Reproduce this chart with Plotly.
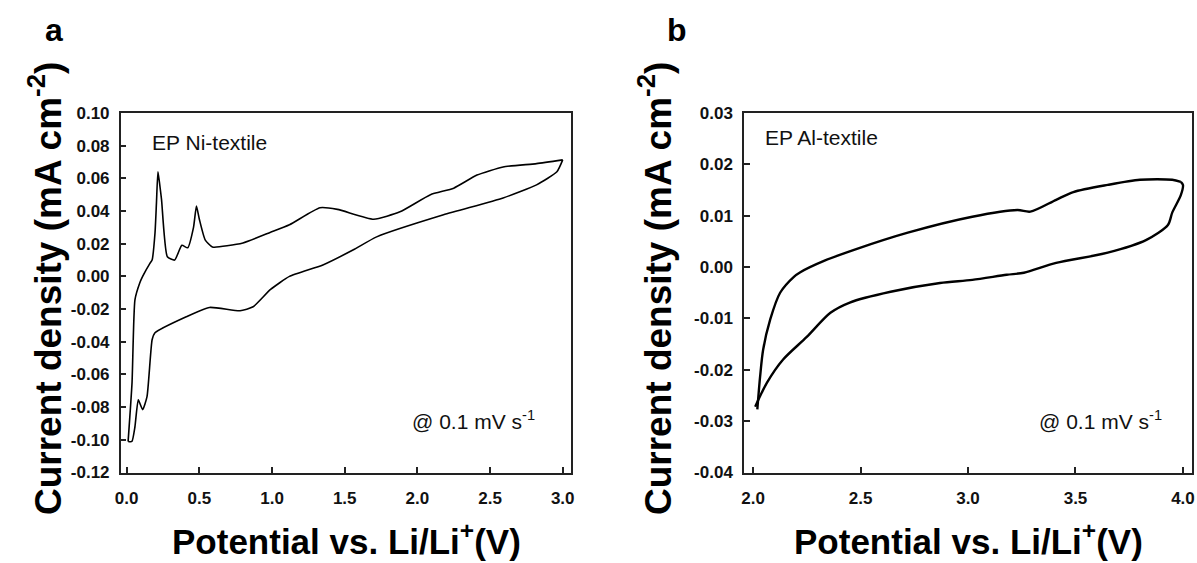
import plotly.graph_objects as go

# ---------------- Panel a: EP Ni-textile (0.0 - 3.0 V) ----------------
a_cath_x = [3.00, 2.96, 2.82, 2.59, 2.18, 1.72, 1.56, 1.35, 1.12, 0.99, 0.87, 0.78,
            0.57, 0.41, 0.195, 0.175, 0.14, 0.11, 0.08, 0.057, 0.036, 0.01]
a_cath_y = [0.0713, 0.064, 0.056, 0.048, 0.0377, 0.0242, 0.0163, 0.007, 0.0, -0.008,
            -0.0186, -0.021, -0.019, -0.0247, -0.0345, -0.0388, -0.0736, -0.0815,
            -0.0755, -0.092, -0.101, -0.101]
a_anod_x = [0.01, 0.037, 0.057, 0.09, 0.11, 0.16, 0.175, 0.195, 0.205, 0.215, 0.225,
            0.24, 0.28, 0.33, 0.38, 0.42, 0.46, 0.48, 0.50, 0.54, 0.59, 0.80, 0.99,
            1.12, 1.33, 1.45, 1.70, 1.88, 2.09, 2.25, 2.41, 2.59, 2.82, 3.00]
a_anod_y = [-0.101, -0.065, -0.0143, -0.004, 0.0, 0.008, 0.010, 0.0266, 0.045, 0.064,
            0.058, 0.047, 0.012, 0.010, 0.019, 0.0175, 0.030, 0.043, 0.035, 0.0224,
            0.018, 0.0205, 0.027, 0.0316, 0.042, 0.041, 0.035, 0.0395, 0.050, 0.054,
            0.062, 0.067, 0.069, 0.0713]

# ---------------- Panel b: EP Al-textile (2.0 - 4.0 V) ----------------
b_anod_x = [2.02, 2.033, 2.047, 2.08, 2.126, 2.19, 2.22, 2.33, 2.48, 2.72, 3.02, 3.23,
            3.29, 3.41, 3.49, 3.65, 3.80, 3.95, 3.99]
b_anod_y = [-0.0277, -0.0213, -0.0161, -0.0102, -0.005, -0.0019, -0.001, 0.0012, 0.0035,
            0.0067, 0.0098, 0.0111, 0.0108, 0.0131, 0.0146, 0.016, 0.017, 0.017, 0.0166]
b_cath_x = [3.99, 4.00, 3.99, 3.95, 3.93, 3.83, 3.65, 3.41, 3.26, 3.18, 3.02, 2.87,
            2.64, 2.45, 2.36, 2.25, 2.14, 2.065, 2.01]
b_cath_y = [0.0166, 0.016, 0.014, 0.0106, 0.0082, 0.0053, 0.0028, 0.0008, -0.0011,
            -0.0015, -0.0025, -0.0031, -0.0048, -0.0069, -0.0089, -0.0136, -0.018,
            -0.0225, -0.0272]

a_xticks = [0.0, 0.5, 1.0, 1.5, 2.0, 2.5, 3.0]
a_yticks = [0.10, 0.08, 0.06, 0.04, 0.02, 0.00, -0.02, -0.04, -0.06, -0.08, -0.10, -0.12]
b_xticks = [2.0, 2.5, 3.0, 3.5, 4.0]
b_yticks = [0.03, 0.02, 0.01, 0.00, -0.01, -0.02, -0.03, -0.04]

W, H = 1197, 563
SANS = "Liberation Sans, Arial, sans-serif"
FRAME = "#222222"

fig = go.Figure()
line_a = dict(color="black", width=1.6, shape="spline", smoothing=0.5)
line_b = dict(color="black", width=2.4, shape="spline", smoothing=0.8)
fig.add_trace(go.Scatter(x=a_anod_x, y=a_anod_y, mode="lines", line=line_a,
                         xaxis="x", yaxis="y", showlegend=False))
fig.add_trace(go.Scatter(x=a_cath_x, y=a_cath_y, mode="lines", line=line_a,
                         xaxis="x", yaxis="y", showlegend=False))
fig.add_trace(go.Scatter(x=b_anod_x, y=b_anod_y, mode="lines", line=line_b,
                         xaxis="x2", yaxis="y2", showlegend=False))
fig.add_trace(go.Scatter(x=b_cath_x, y=b_cath_y, mode="lines", line=line_b,
                         xaxis="x2", yaxis="y2", showlegend=False))

tickfont = dict(family=SANS, size=17, color="#111111", weight="bold")
common = dict(showgrid=False, zeroline=False, showline=True, linewidth=1.5,
              linecolor=FRAME, mirror=True, ticks="inside", ticklen=6,
              tickwidth=1.5, tickcolor=FRAME, tickfont=tickfont, automargin=False)

def fmt2(v):
    s = f"{v:.2f}"
    return "0.00" if s == "-0.00" else s

y_dom = [1 - 472.5 / H, 1 - 113 / H]
fig.update_layout(
    template="none",
    width=W, height=H, margin=dict(l=0, r=0, t=0, b=0, autoexpand=False),
    paper_bgcolor="white", plot_bgcolor="white",
    xaxis=dict(domain=[120.7 / W, 571 / W], range=[-0.041, 3.057], anchor="y",
               tickvals=a_xticks, ticktext=[f"{v:.1f}" for v in a_xticks],
               ticklabelstandoff=9, **common),
    yaxis=dict(domain=y_dom, range=[-0.12, 0.10], anchor="x",
               tickvals=a_yticks, ticktext=[fmt2(v) for v in a_yticks],
               ticklabelstandoff=6, **common),
    xaxis2=dict(domain=[744 / W, 1192 / W], range=[1.958, 4.042], anchor="y2",
                tickvals=b_xticks, ticktext=[f"{v:.1f}" for v in b_xticks],
                ticklabelstandoff=9, **common),
    yaxis2=dict(domain=y_dom, range=[-0.04, 0.03], anchor="x2",
                tickvals=b_yticks, ticktext=[fmt2(v) for v in b_yticks],
                ticklabelstandoff=6, **common),
)

def px(x):
    return x / W

def py(y):
    return 1 - y / H

ann = []
# panel letters
ann.append(dict(text="a", x=px(54), y=py(30), font=dict(family=SANS, size=32, color="black", weight="bold")))
ann.append(dict(text="b", x=px(677), y=py(30), font=dict(family=SANS, size=32, color="black", weight="bold")))
# y titles
ytitle = "Current density (mA cm<sup>-2</sup>)"
for xp in (45, 655):
    ann.append(dict(text=ytitle, x=px(xp), y=py(289), textangle=-90,
                    font=dict(family=SANS, size=37, color="black", weight="bold")))
# x titles
xtitle = "Potential vs. Li/Li<sup>+</sup>(V)"
for xp in (346, 968):
    ann.append(dict(text=xtitle, x=px(xp), y=py(539),
                    font=dict(family=SANS, size=35, color="black", weight="bold")))
# in-plot labels
ann.append(dict(text="EP Ni-textile", x=px(150), y=py(142), xanchor="left",
                font=dict(family=SANS, size=21, color="#111111")))
ann.append(dict(text="@ 0.1 mV s<sup>-1</sup>", x=px(410), y=py(420), xanchor="left",
                font=dict(family=SANS, size=21, color="#111111")))
ann.append(dict(text="EP Al-textile", x=px(763), y=py(137), xanchor="left",
                font=dict(family=SANS, size=21, color="#111111")))
ann.append(dict(text="@ 0.1 mV s<sup>-1</sup>", x=px(1037), y=py(420), xanchor="left",
                font=dict(family=SANS, size=21, color="#111111")))

for a in ann:
    a.setdefault("xanchor", "center")
    a.update(xref="paper", yref="paper", yanchor="middle", showarrow=False)
fig.update_layout(annotations=ann)

fig.write_html("out.html")
